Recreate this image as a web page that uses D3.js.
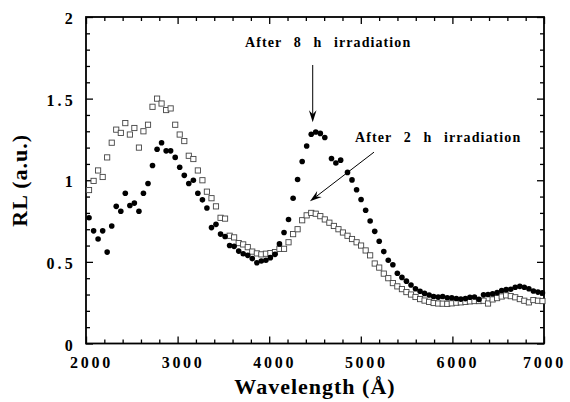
<!DOCTYPE html>
<html>
<head>
<meta charset="utf-8">
<script src="https://cdn.jsdelivr.net/npm/d3@7"></script>
<style>
  html, body { margin: 0; padding: 0; background: #fff; }
</style>
</head>
<body>
<svg id="chart" width="570" height="402"></svg>
<script>
// ---- data ----
const wavelength2h = [2033,2083,2132,2182,2231,2281,2330,2380,2429,2479,
  2528,2578,2627,2677,2726,2776,2825,2875,2924,2974,
  3023,3073,3122,3172,3221,3271,3320,3370,3419,3469,
  3518,3568,3617,3667,3716,3766,3815,3865,3914,3964,
  4013,4063,4112,4162,4211,4261,4310,4360,4409,4459,
  4508,4558,4607,4657,4706,4756,4805,4855,4904,4954,
  5003,5053,5102,5152,5201,5251,5300,5350,5399,5449,
  5498,5548,5597,5647,5696,5746,5795,5845,5894,5944,
  5993,6043,6092,6142,6191,6241,6290,6340,6389,6439,
  6488,6538,6587,6637,6686,6736,6785,6835,6884,6934,6983];
const rl2h = [0.94,0.996,1.06,1.02,1.14,1.23,1.31,1.29,1.35,1.28,
  1.32,1.20,1.30,1.34,1.45,1.50,1.47,1.43,1.44,1.34,
  1.28,1.24,1.15,1.13,1.06,1.00,0.93,0.89,0.84,0.77,
  0.765,0.66,0.65,0.615,0.607,0.59,0.563,0.552,0.546,0.55,
  0.554,0.56,0.58,0.58,0.62,0.67,0.70,0.755,0.785,0.80,
  0.795,0.78,0.76,0.74,0.72,0.70,0.68,0.66,0.64,0.62,
  0.60,0.57,0.54,0.49,0.465,0.428,0.40,0.37,0.35,0.333,
  0.315,0.30,0.285,0.272,0.263,0.255,0.248,0.245,0.244,0.243,
  0.246,0.25,0.252,0.255,0.258,0.26,0.26,0.262,0.245,0.27,
  0.278,0.288,0.295,0.29,0.283,0.272,0.262,0.252,0.266,0.262,0.26];

const wavelength8h = [2033,2083,2132,2182,2231,2281,2330,2380,2429,2479,
  2528,2578,2627,2677,2726,2776,2825,2875,2924,2974,
  3023,3073,3122,3172,3221,3271,3320,3370,3419,3469,
  3518,3568,3617,3667,3716,3766,3815,3865,3914,3964,
  4013,4063,4112,4162,4211,4261,4310,4360,4409,4459,
  4508,4558,4607,4680,4728,4780,4855,4904,4954,
  5003,5053,5102,5152,5201,5251,5300,5350,5399,5449,
  5498,5548,5597,5647,5696,5746,5795,5845,5894,5944,
  5993,6043,6092,6142,6191,6241,6290,6340,6389,6439,
  6488,6538,6587,6637,6686,6736,6785,6835,6884,6934,6983];
const rl8h = [0.77,0.69,0.64,0.69,0.56,0.72,0.84,0.81,0.92,0.845,
  0.86,0.81,0.92,0.98,1.09,1.19,1.23,1.18,1.18,1.14,
  1.08,1.03,0.98,1.00,0.92,0.88,0.83,0.71,0.73,0.67,
  0.655,0.60,0.595,0.566,0.55,0.54,0.52,0.495,0.505,0.51,
  0.526,0.546,0.61,0.68,0.76,0.89,1.005,1.115,1.21,1.282,
  1.296,1.287,1.262,1.133,1.106,1.123,1.048,1.002,0.942,
  0.882,0.816,0.75,0.687,0.626,0.563,0.51,0.482,0.43,0.405,
  0.382,0.358,0.335,0.32,0.307,0.297,0.288,0.284,0.288,0.28,
  0.28,0.276,0.272,0.275,0.283,0.285,0.27,0.298,0.30,0.305,
  0.312,0.325,0.33,0.332,0.345,0.35,0.345,0.335,0.322,0.315,0.31];

const xMajorTicks = [2000,3000,4000,5000,6000,7000];
const xTickLabels = ["2000","3000","4000","5000","6000","7000"];
const yMajorTicks = [0,0.5,1,1.5,2];
const yTickLabels = ["0","0.5","1","1.5","2"];

const annotationTexts = ["After 8 h irradiation", "After 2 h irradiation"];
// [text x (Å), text y (a.u.)], arrow [from λ, from RL, to λ, to RL]
const annotationTextPos = [[3736,1.816],[4937,1.233]];
const annotationArrows = [[4475,1.706,4475,1.356],[5144,1.172,4445,0.871]];

const xLabel = "Wavelength (\u00C5)";
const yLabel = "RL (a.u.)";

// ---- drawing ----
const FONT = '"Liberation Serif", "Times New Roman", Times, "Nimbus Roman", "DejaVu Serif", serif';
const svg = d3.select("#chart");
const x = d3.scaleLinear().domain([2000,7000]).range([86,544]);
const y = d3.scaleLinear().domain([0,2]).range([343.5,17]);
const X0 = x.range()[0], X1 = x.range()[1], Y0 = y.range()[0], Y1 = y.range()[1];

const xMinor = d3.range(2000,7001,200).filter(v => v % 1000 !== 0);
const yMinor = d3.range(0,21,1).map(v => v/10).filter(v => Math.abs(v*2 - Math.round(v*2)) > 1e-6);

function styleAxis(g){
  g.select(".domain").remove();
  g.selectAll(".tick line").attr("stroke","#000").attr("stroke-width",1.3);
}
function styleLabels(g, ls){
  g.selectAll("text")
    .style("font-family",FONT).style("font-weight","bold").style("font-size","16px")
    .style("letter-spacing",ls+"px").attr("fill","#000");
}

// bottom
svg.append("g").attr("transform",`translate(0,${Y0})`)
  .call(d3.axisBottom(x).tickValues(xMajorTicks).tickSize(-7).tickPadding(13)
    .tickFormat((d,i)=>xTickLabels[i]))
  .call(styleAxis).call(g=>styleLabels(g,2.7))
  .call(g=>g.selectAll("text").attr("dx",(d,i,n)=> i===n.length-1 ? 0 : 5));
svg.append("g").attr("transform",`translate(0,${Y0})`)
  .call(d3.axisBottom(x).tickValues(xMinor).tickSize(-4).tickFormat(""))
  .call(styleAxis);
// top
svg.append("g").attr("transform",`translate(0,${Y1})`)
  .call(d3.axisTop(x).tickValues(xMajorTicks).tickSize(-7).tickFormat(""))
  .call(styleAxis);
svg.append("g").attr("transform",`translate(0,${Y1})`)
  .call(d3.axisTop(x).tickValues(xMinor).tickSize(-4).tickFormat(""))
  .call(styleAxis);
// left
svg.append("g").attr("transform",`translate(${X0},0)`)
  .call(d3.axisLeft(y).tickValues(yMajorTicks).tickSize(-7).tickPadding(10)
    .tickFormat((d,i)=>yTickLabels[i]))
  .call(styleAxis).call(g=>styleLabels(g,3.2))
  .call(g=>g.selectAll("text").attr("dy","0.42em"));
svg.append("g").attr("transform",`translate(${X0},0)`)
  .call(d3.axisLeft(y).tickValues(yMinor).tickSize(-4).tickFormat(""))
  .call(styleAxis);
// right
svg.append("g").attr("transform",`translate(${X1},0)`)
  .call(d3.axisRight(y).tickValues(yMajorTicks).tickSize(-7).tickFormat(""))
  .call(styleAxis);
svg.append("g").attr("transform",`translate(${X1},0)`)
  .call(d3.axisRight(y).tickValues(yMinor).tickSize(-4).tickFormat(""))
  .call(styleAxis);

// frame
svg.append("rect").attr("x",X0).attr("y",Y1).attr("width",X1-X0).attr("height",Y0-Y1)
  .attr("fill","none").attr("stroke","#000").attr("stroke-width",1.8);

// squares (2 h)
const s = 5.2;
svg.append("g").selectAll("rect").data(wavelength2h.map((w,i)=>[w,rl2h[i]])).join("rect")
  .attr("x",d=>x(d[0])-s/2).attr("y",d=>y(d[1])-s/2).attr("width",s).attr("height",s)
  .attr("fill","#fff").attr("stroke","#444").attr("stroke-width",0.9);

// circles (8 h)
svg.append("g").selectAll("circle").data(wavelength8h.map((w,i)=>[w,rl8h[i]])).join("circle")
  .attr("cx",d=>x(d[0])).attr("cy",d=>y(d[1])).attr("r",2.8).attr("fill","#000");

// annotations
annotationTexts.forEach((t,i)=>{
  svg.append("text").attr("x",x(annotationTextPos[i][0])).attr("y",y(annotationTextPos[i][1]))
    .style("font-family",FONT).style("font-weight","bold").style("font-size","14px")
    .style("letter-spacing","1.1px").style("word-spacing","7px").attr("fill","#000").text(t);
});
annotationArrows.forEach(a=>{
  const x1=x(a[0]), y1=y(a[1]), x2=x(a[2]), y2=y(a[3]);
  const ang = Math.atan2(y2-y1, x2-x1);
  const L = 12, W = 3.8, N = 8;
  const ux=Math.cos(ang), uy=Math.sin(ang), px=-uy, py=ux;
  svg.append("line").attr("x1",x1).attr("y1",y1).attr("x2",x2-ux*N).attr("y2",y2-uy*N)
    .attr("stroke","#000").attr("stroke-width",1);
  const p = [[x2,y2],[x2-ux*L+px*W,y2-uy*L+py*W],[x2-ux*N,y2-uy*N],[x2-ux*L-px*W,y2-uy*L-py*W]];
  svg.append("path").attr("d","M"+p.map(q=>q.join(",")).join("L")+"Z").attr("fill","#000");
});

// axis titles
svg.append("text").attr("x",(X0+X1)/2).attr("y",394).attr("text-anchor","middle")
  .style("font-family",FONT).style("font-weight","bold").style("font-size","22px")
  .style("letter-spacing","1px").attr("fill","#000").text(xLabel);
svg.append("text").attr("transform",`translate(27,${(Y0+Y1)/2}) rotate(-90)`).attr("text-anchor","middle")
  .style("font-family",FONT).style("font-weight","bold").style("font-size","22px")
  .style("letter-spacing","1px").attr("fill","#000").text(yLabel);
</script>
</body>
</html>
